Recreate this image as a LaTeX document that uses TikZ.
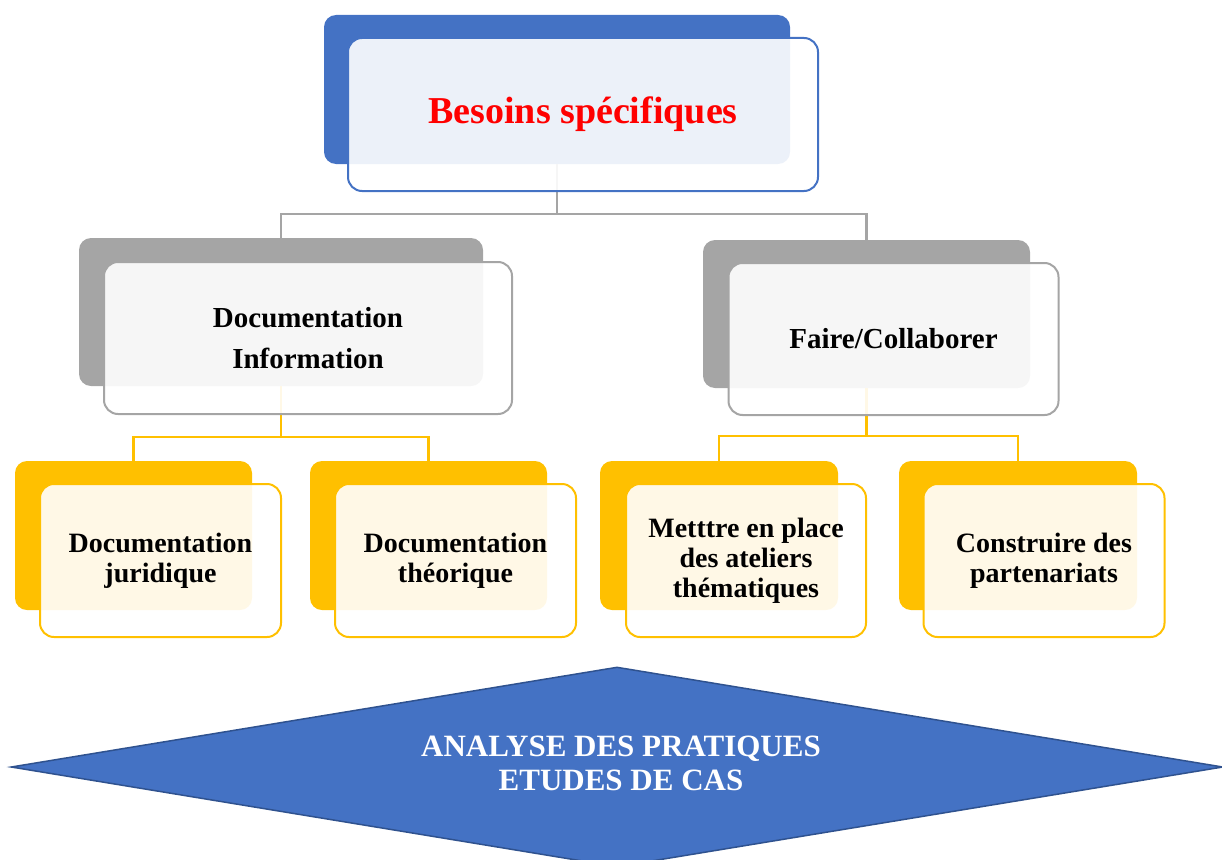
\documentclass[tikz,border=0pt]{standalone}
\usepackage{fontspec}
\setmainfont{Liberation Serif}
\usetikzlibrary{shapes.geometric}
\definecolor{bleu}{HTML}{4472C4}
\definecolor{bleufonce}{HTML}{2F528F}
\definecolor{gris}{HTML}{A5A5A5}
\definecolor{jaune}{HTML}{FFC000}
\tikzset{
  backbox/.style={rectangle, rounded corners=12pt, fill=#1, inner sep=0pt},
  frontbox/.style={rectangle, rounded corners=14pt, draw=#1, line width=2pt, fill=white,
    fill opacity=.9, text opacity=1, align=center, inner sep=0pt, font=\bfseries},
  link/.style={draw=#1, line width=2.5pt}
}
\begin{document}
\begin{tikzpicture}[x=1pt, y=-1pt]
  \useasboundingbox (0,0) rectangle (1222,859);
  % back boxes
  \node[backbox=bleu, minimum width=466pt, minimum height=149pt] (top) at (557,89.5) {};
  \node[backbox=gris, minimum width=404pt, minimum height=148pt] (docinfo) at (281,312) {};
  \node[backbox=gris, minimum width=327pt, minimum height=148pt] (faire) at (866.5,314) {};
  \node[backbox=jaune, minimum width=237pt, minimum height=149pt] (juridique) at (133.5,535.5) {};
  \node[backbox=jaune, minimum width=237pt, minimum height=149pt] (theorique) at (428.5,535.5) {};
  \node[backbox=jaune, minimum width=238pt, minimum height=149pt] (ateliers) at (719,535.5) {};
  \node[backbox=jaune, minimum width=238pt, minimum height=149pt] (partenariats) at (1018,535.5) {};
  % connectors
  \draw[link=gris] (top.south) -- ++(0,50) -| (docinfo.north);
  \draw[link=gris] (top.south) -- ++(0,50) -| (faire.north);
  \draw[link=jaune] (docinfo.south) -- ++(0,51) -| (juridique.north);
  \draw[link=jaune] (docinfo.south) -- ++(0,51) -| (theorique.north);
  \draw[link=jaune] (faire.south) -- ++(0,48) -| (ateliers.north);
  \draw[link=jaune] (faire.south) -- ++(0,48) -| (partenariats.north);
  % front boxes
  \node[frontbox=bleu, minimum width=470pt, minimum height=153pt, text=red,
    font=\bfseries\fontsize{38}{44}\selectfont] (topf) at ([shift={(26,25)}]top.center) {Besoins spécifiques};
  \node[frontbox=gris, minimum width=408pt, minimum height=152pt,
    font=\bfseries\fontsize{29}{41}\selectfont] (docinfof) at ([shift={(27,26)}]docinfo.center) {Documentation\\Information};
  \node[frontbox=gris, minimum width=330pt, minimum height=152pt,
    font=\bfseries\fontsize{29}{41}\selectfont] (fairef) at ([shift={(27,25)}]faire.center) {Faire/Collaborer};
  \node[frontbox=jaune, minimum width=241pt, minimum height=153pt,
    font=\bfseries\fontsize{28}{30}\selectfont] (juridiquef) at ([shift={(27,25)}]juridique.center) {Documentation\\juridique};
  \node[frontbox=jaune, minimum width=241pt, minimum height=153pt,
    font=\bfseries\fontsize{28}{30}\selectfont] (theoriquef) at ([shift={(27,25)}]theorique.center) {Documentation\\théorique};
  \node[frontbox=jaune, minimum width=240pt, minimum height=153pt,
    font=\bfseries\fontsize{28}{30}\selectfont] (ateliersf) at ([shift={(27,25)}]ateliers.center) {Metttre en place\\des ateliers\\thématiques};
  \node[frontbox=jaune, minimum width=241pt, minimum height=153pt,
    font=\bfseries\fontsize{28}{30}\selectfont] (partenariatsf) at ([shift={(26,25)}]partenariats.center) {Construire des\\partenariats};
  % bottom diamond
  \node[diamond, aspect=6, fill=bleu, draw=bleufonce, line width=1.5pt, inner sep=0pt,
    minimum width=1212pt, minimum height=200pt] (analyse) at (617,767) {};
  \node[text=white, align=center, font=\bfseries\fontsize{31}{34}\selectfont]
    (analysetxt) at ([shift={(4,-4)}]analyse.center) {ANALYSE DES PRATIQUES\\ETUDES DE CAS};
\end{tikzpicture}
\end{document}
